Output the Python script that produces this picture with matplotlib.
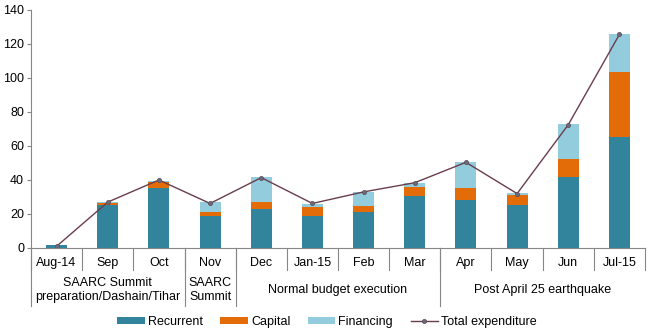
import matplotlib
matplotlib.use("Agg")
import matplotlib.pyplot as plt
from matplotlib.lines import Line2D
import numpy as np

plt.rcParams['font.family'] = ['Liberation Sans', 'DejaVu Sans']

categories = ["Aug-14", "Sep", "Oct", "Nov", "Dec", "Jan-15", "Feb", "Mar",
              "Apr", "May", "Jun", "Jul-15"]
recurrent = [1.5, 25.3, 35.3, 19.0, 23.1, 19.0, 20.9, 30.8, 28.4, 25.5, 41.9, 65.5]
capital   = [0.5, 1.0, 3.3, 2.4, 4.1, 5.3, 4.0, 5.3, 7.1, 5.9, 10.6, 38.2]
financing = [0.0, 0.5, 1.0, 5.4, 14.7, 1.7, 8.2, 2.3, 15.3, 1.1, 20.6, 22.3]
total     = [1.0, 27.0, 40.0, 26.2, 41.4, 26.2, 33.0, 38.4, 50.4, 32.0, 72.5, 125.6]
groups = [("SAARC Summit\npreparation/Dashain/Tihar", 0, 2),
          ("SAARC\nSummit", 3, 3),
          ("Normal budget execution", 4, 7),
          ("Post April 25 earthquake", 8, 11)]
yticks = [0, 20, 40, 60, 80, 100, 120, 140]

c_rec = "#31849B"
c_cap = "#E36C09"
c_fin = "#93CDDD"
c_line = "#6A3D4D"

fig = plt.figure(figsize=(6.5, 3.33), dpi=100)
W, H = 650, 333
ax = fig.add_axes([31 / W, (H - 248) / H, 614 / W, 238 / H])

x = np.arange(len(categories))
rec = np.array(recurrent); cap = np.array(capital); fin = np.array(financing)
bw = 0.41
b1 = ax.bar(x, rec, bw, color=c_rec, label="Recurrent")
b2 = ax.bar(x, cap, bw, bottom=rec, color=c_cap, label="Capital")
b3 = ax.bar(x, fin, bw, bottom=rec + cap, color=c_fin, label="Financing")
l1, = ax.plot(x, total, color=c_line, lw=1.0, marker='o', ms=3,
              markerfacecolor="#6E6A7A", markeredgecolor="#5A4A5A", markeredgewidth=0.5,
              label="Total expenditure")

ax.set_xlim(-0.5, len(categories) - 0.5)
ax.set_ylim(0, 140)
ax.set_yticks(yticks)
ax.tick_params(axis='y', direction='out', length=3, width=0.8, color="#868686",
               labelsize=9, pad=2)
ax.set_xticks([])
for s in ['top', 'right']:
    ax.spines[s].set_visible(False)
ax.spines['left'].set_color("#868686")
ax.spines['bottom'].set_color("#868686")

trans = ax.get_xaxis_transform()
def ay(py):
    return (248 - py) / 238.0

for i, c in enumerate(categories):
    ax.text(i, ay(263), c, transform=trans, ha='center', va='center', fontsize=9)

for i in range(len(categories) + 1):
    ax.add_line(Line2D([i - 0.5, i - 0.5], [0, ay(270)], transform=trans,
                       color="#868686", lw=0.8, clip_on=False))

for xb in [-0.5, 2.5, 3.5, 7.5]:
    ax.add_line(Line2D([xb, xb], [0, ay(306)], transform=trans,
                       color="#868686", lw=0.8, clip_on=False))

for label, a, b in groups:
    ax.text((a + b) / 2, ay(290), label, transform=trans, ha='center', va='center',
            fontsize=9, linespacing=1.25)

fig.legend([b1, b2, b3, l1], ["Recurrent", "Capital", "Financing", "Total expenditure"],
           loc='center', bbox_to_anchor=(327 / W, (H - 322) / H),
           ncol=4, frameon=False, fontsize=9, handlelength=2.2, handleheight=0.45,
           columnspacing=1.4, handletextpad=0.25)

fig.savefig("out.png", dpi=100)
